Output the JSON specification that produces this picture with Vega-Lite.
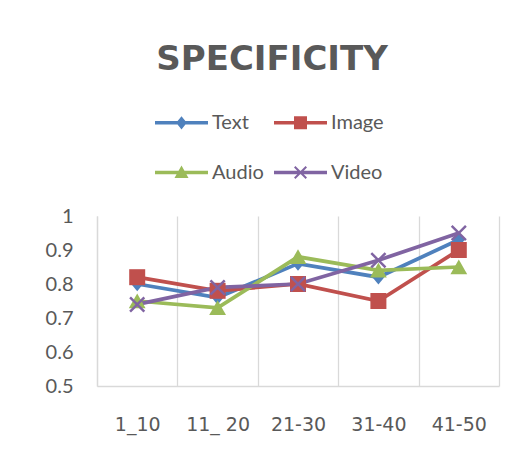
{
  "$schema": "https://vega.github.io/schema/vega-lite/v6.json",
  "width": 402,
  "height": 170,
  "autosize": {"type": "none"},
  "padding": {"left": 97, "top": 216, "right": 26, "bottom": 75},
  "background": "white",
  "title": {
    "text": "SPECIFICITY",
    "font": "DejaVu Sans",
    "fontWeight": "bold",
    "fontSize": 34,
    "color": "#595959",
    "anchor": "middle",
    "frame": "bounds",
    "offset": 19
  },
  "data": {
    "values": [
      {"period": "1_10", "series": "Text", "value": 0.80},
      {"period": "11_ 20", "series": "Text", "value": 0.76},
      {"period": "21-30", "series": "Text", "value": 0.86},
      {"period": "31-40", "series": "Text", "value": 0.82},
      {"period": "41-50", "series": "Text", "value": 0.93},
      {"period": "1_10", "series": "Image", "value": 0.82},
      {"period": "11_ 20", "series": "Image", "value": 0.78},
      {"period": "21-30", "series": "Image", "value": 0.80},
      {"period": "31-40", "series": "Image", "value": 0.75},
      {"period": "41-50", "series": "Image", "value": 0.90},
      {"period": "1_10", "series": "Audio", "value": 0.75},
      {"period": "11_ 20", "series": "Audio", "value": 0.73},
      {"period": "21-30", "series": "Audio", "value": 0.88},
      {"period": "31-40", "series": "Audio", "value": 0.84},
      {"period": "41-50", "series": "Audio", "value": 0.85},
      {"period": "1_10", "series": "Video", "value": 0.74},
      {"period": "11_ 20", "series": "Video", "value": 0.79},
      {"period": "21-30", "series": "Video", "value": 0.80},
      {"period": "31-40", "series": "Video", "value": 0.87},
      {"period": "41-50", "series": "Video", "value": 0.95}
    ]
  },
  "encoding": {
    "x": {
      "field": "period",
      "type": "nominal",
      "sort": null,
      "scale": {"paddingInner": 0, "paddingOuter": 0},
      "axis": {
        "title": null,
        "grid": true,
        "tickBand": "extent",
        "gridColor": "#D9D9D9",
        "gridWidth": 1.3,
        "domainColor": "#D9D9D9",
        "domainWidth": 1.3,
        "ticks": false,
        "labelAngle": 0,
        "labelFont": "DejaVu Sans",
        "labelFontSize": 19,
        "labelColor": "#595959",
        "labelPadding": 29
      }
    },
    "y": {
      "field": "value",
      "type": "quantitative",
      "scale": {"domain": [0.5, 1], "nice": false, "zero": false},
      "axis": {
        "title": null,
        "values": [0.5, 0.6, 0.7, 0.8, 0.9, 1],
        "format": ".1~f",
        "grid": false,
        "ticks": false,
        "domainColor": "#D9D9D9",
        "domainWidth": 1.3,
        "labelFont": "Lato",
        "labelFontSize": 20,
        "labelColor": "#595959",
        "labelPadding": 24
      }
    }
  },
  "layer": [
    {
      "mark": {"type": "line", "strokeWidth": 3.75},
      "encoding": {
        "color": {
          "field": "series",
          "type": "nominal",
          "scale": {
            "domain": ["Text", "Image", "Audio", "Video"],
            "range": ["#4F81BD", "#C0504D", "#9BBB59", "#8064A2"]
          },
          "legend": {
            "orient": "none",
            "legendX": 58,
            "legendY": -120,
            "columns": 2,
            "direction": "horizontal",
            "title": null,
            "padding": 0,
            "symbolSize": 2809,
            "labelFont": "Lato",
            "labelFontSize": 20,
            "labelColor": "#595959",
            "labelOffset": 4,
            "columnPadding": 10,
            "rowPadding": 13,
            "encode": {
              "symbols": {
                "update": {
                  "shape": {
                    "signal": "datum.value === 'Text' ? 'M-1,-0.068H1V0.068H-1Z M0,-0.25L0.2,0L0,0.25L-0.2,0Z' : datum.value === 'Image' ? 'M-1,-0.068H1V0.068H-1Z M-0.245,-0.245H0.245V0.245H-0.245Z' : datum.value === 'Audio' ? 'M-1,-0.068H1V0.068H-1Z M0,-0.265L0.265,0.21H-0.265Z' : 'M-1,-0.068H1V0.068H-1Z M-0.245,-0.192L-0.192,-0.245L0.245,0.192L0.192,0.245Z M0.245,-0.192L-0.192,0.245L-0.245,0.192L0.192,-0.245Z'"
                  },
                  "fill": {"scale": "color", "field": "value"},
                  "stroke": {"value": "transparent"},
                  "strokeWidth": {"value": 0},
                  "opacity": {"value": 1}
                }
              }
            }
          }
        }
      }
    },
    {
      "mark": {"type": "point", "filled": true, "opacity": 1, "size": 256},
      "encoding": {
        "color": {
          "field": "series",
          "type": "nominal",
          "scale": {
            "domain": ["Text", "Image", "Audio", "Video"],
            "range": ["#4F81BD", "#C0504D", "#9BBB59", "#8064A2"]
          },
          "legend": null
        },
        "shape": {
          "field": "series",
          "type": "nominal",
          "scale": {
            "domain": ["Text", "Image", "Audio", "Video"],
            "range": [
              "M0,-0.9L0.75,0L0,0.9L-0.75,0Z",
              "M-1,-1H1V1H-1Z",
              "M0,-0.95L1.05,0.9H-1.05Z",
              "M-1,-0.78L-0.78,-1L1,0.78L0.78,1Z M1,-0.78L-0.78,1L-1,0.78L0.78,-1Z"
            ]
          },
          "legend": null
        }
      }
    }
  ],
  "resolve": {"legend": {"color": "independent", "shape": "independent"}},
  "config": {
    "view": {"stroke": null}
  }
}
